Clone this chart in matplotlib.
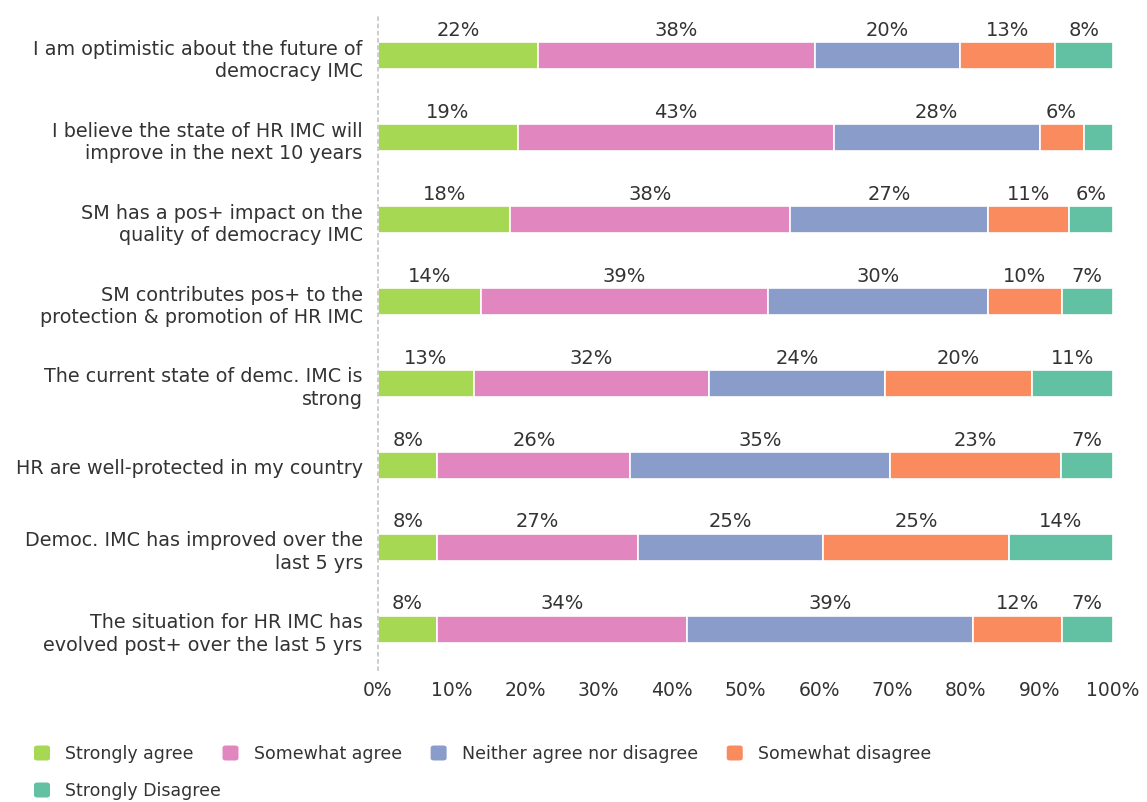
import matplotlib
matplotlib.use("Agg")
import matplotlib.pyplot as plt
from matplotlib.patches import FancyBboxPatch
import numpy as np

plt.rcParams['font.family'] = ['DejaVu Sans']

statements = [
    "I am optimistic about the future of\ndemocracy IMC",
    "I believe the state of HR IMC will\nimprove in the next 10 years",
    "SM has a pos+ impact on the\nquality of democracy IMC",
    "SM contributes pos+ to the\nprotection & promotion of HR IMC",
    "The current state of demc. IMC is\nstrong",
    "HR are well-protected in my country",
    "Democ. IMC has improved over the\nlast 5 yrs",
    "The situation for HR IMC has\nevolved post+ over the last 5 yrs",
]

answers = ["Strongly agree", "Somewhat agree", "Neither agree nor disagree",
           "Somewhat disagree", "Strongly Disagree"]

strongly_agree = [22, 19, 18, 14, 13, 8, 8, 8]
somewhat_agree = [38, 43, 38, 39, 32, 26, 27, 34]
neither = [20, 28, 27, 30, 24, 35, 25, 39]
somewhat_disagree = [13, 6, 11, 10, 20, 23, 25, 12]
strongly_disagree = [8, 4, 6, 7, 11, 7, 14, 7]

colors = ["#a6d854", "#e286c0", "#8a9dca", "#fa8b5f", "#62c1a2"]
TEXT = "#333333"

series = np.array([strongly_agree, somewhat_agree, neither,
                   somewhat_disagree, strongly_disagree], dtype=float)
# each row is stacked to 100%
shares = series / series.sum(axis=0) * 100

fig = plt.figure(figsize=(11.47, 8.03), dpi=100)
ax = fig.add_axes([378 / 1147, 1 - 671.4 / 803, 735 / 1147, 655.8 / 803])

ypos = np.arange(len(statements))
left = np.zeros(len(statements))
for k in range(len(answers)):
    ax.barh(ypos, shares[k], left=left, height=0.325, color=colors[k],
            edgecolor="white", linewidth=1.2, label=answers[k])
    for i in ypos:
        if series[k, i] >= 5:
            ax.annotate(f"{series[k, i]:.0f}%",
                        xy=(left[i] + shares[k, i] / 2, i - 0.1625),
                        xytext=(0, 5.5), textcoords="offset points",
                        ha="center", va="baseline", fontsize=14, color=TEXT)
    left += shares[k]

ax.set_xlim(0, 100)
ax.set_ylim(len(statements) - 0.5, -0.5)
ax.set_xticks(np.arange(0, 101, 10))
ax.set_xticklabels([f"{v}%" for v in range(0, 101, 10)], fontsize=13.5)
ax.set_yticks(ypos)
ax.set_yticklabels(statements, linespacing=1.25, fontsize=13.8)
ax.tick_params(axis="both", length=0, colors=TEXT)
ax.tick_params(axis="y", pad=11)
ax.tick_params(axis="x", pad=7)

for side in ["top", "right", "bottom"]:
    ax.spines[side].set_visible(False)
ax.spines["left"].set_color("#c8c8c8")
ax.spines["left"].set_linestyle((0, (1.5, 2.5)))
ax.spines["left"].set_linewidth(1.3)

# legend laid out as a wrapping row of swatches
fig.canvas.draw()
renderer = fig.canvas.get_renderer()
W, H = fig.bbox.width, fig.bbox.height
x, yrow = 34, 754
for name, col in zip(answers, colors):
    t = fig.text(0, 0, name, fontsize=12.5, color=TEXT, va="center")
    w = t.get_window_extent(renderer).width
    if x + 31 + w > 960:
        x, yrow = 34, 791
    fig.patches.append(FancyBboxPatch((x / W, 1 - (yrow + 7.5) / H), 16 / W, 15 / H,
                                      boxstyle="round,pad=0,rounding_size=0.003",
                                      transform=fig.transFigure, facecolor=col,
                                      edgecolor="none"))
    t.set_position(((x + 31) / W, 1 - yrow / H))
    x += 31 + w + 29

fig.savefig("out.png", dpi=100, facecolor="white")
